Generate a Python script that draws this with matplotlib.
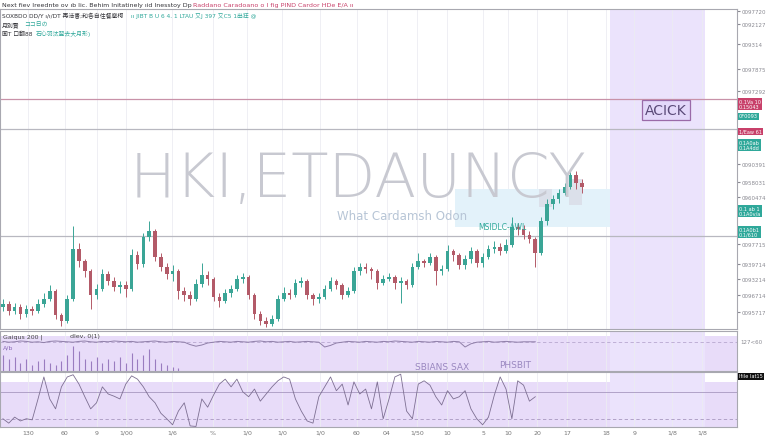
import matplotlib
matplotlib.use("Agg")
import matplotlib.pyplot as plt
from matplotlib.patches import Rectangle
import numpy as np

# ---- data (price in chart units) ----
closes = [25, 18, 22, 15, 20, 18, 25, 30, 38, 14, 8, 30, 80, 68, 58, 34, 40, 55, 48, 42,
          44, 40, 74, 65, 92, 98, 72, 62, 55, 58, 38, 34, 30, 45, 54, 50, 32, 28, 36, 40,
          50, 52, 34, 15, 8, 5, 10, 30, 36, 34, 46, 48, 34, 30, 32, 40, 48, 44, 34, 38,
          58, 62, 60, 58, 46, 50, 52, 46, 48, 44, 62, 68, 66, 72, 58, 60, 78, 74, 64, 70,
          78, 66, 72, 80, 82, 78, 84, 102, 100, 94, 90, 76, 108, 125, 130, 136, 142, 154, 146, 142]
highs = [30, 28, 26, 25, 24, 23, 30, 36, 44, 40, 16, 34, 103, 86, 70, 60, 45, 60, 58, 52,
         48, 48, 80, 78, 96, 108, 100, 76, 66, 64, 60, 42, 38, 50, 66, 58, 52, 36, 40, 44,
         54, 56, 54, 36, 18, 12, 14, 34, 42, 40, 50, 52, 50, 36, 36, 44, 52, 50, 46, 42,
         62, 66, 66, 62, 60, 54, 56, 54, 52, 50, 66, 76, 70, 76, 74, 64, 84, 80, 76, 74,
         82, 80, 76, 84, 88, 86, 90, 112, 106, 104, 98, 92, 112, 130, 134, 140, 146, 160, 158, 150]
lows = [18, 14, 15, 10, 12, 14, 16, 22, 28, 10, 3, 6, 28, 62, 52, 20, 30, 38, 44, 38,
        36, 32, 38, 60, 62, 88, 68, 58, 50, 48, 30, 28, 24, 28, 42, 44, 28, 22, 26, 32,
        38, 46, 30, 10, 4, 2, 3, 8, 28, 30, 32, 42, 30, 24, 26, 30, 38, 40, 30, 32,
        36, 54, 56, 50, 40, 44, 48, 40, 26, 40, 42, 60, 62, 64, 44, 54, 58, 68, 60, 60,
        66, 62, 62, 70, 76, 74, 76, 82, 94, 90, 86, 62, 74, 104, 120, 126, 134, 140, 140, 136]
first_open = 22

volume = [40, 30, 35, 20, 30, 15, 25, 30, 20, 15, 25, 40, 62, 50, 30, 25, 35, 20, 30, 25,
          35, 20, 45, 30, 40, 55, 30, 20, 15, 10, 8]

trend = [74, 72, 73, 75, 74, 72, 73, 71, 74, 75, 74, 73, 72, 74, 75, 73, 72, 74, 73, 75,
         74, 73, 74, 72, 73, 74, 75, 73, 72, 74, 73, 72, 66, 62, 65, 70, 72, 74, 73, 72,
         74, 73, 72, 74, 75, 73, 74, 72, 73, 74, 72, 73, 74, 73, 72, 60, 64, 70, 72, 74,
         73, 72, 74, 73, 72, 74, 73, 75, 74, 73, 72, 74, 73, 72, 74, 73, 72, 74, 73, 60,
         68, 72, 73, 74, 72, 73, 74, 73, 72, 73, 73, 73]

osc = [15, 7, 18, 11, 15, 13, 51, 91, 51, 33, 73, 91, 95, 78, 55, 33, 44, 73, 60, 56,
       51, 78, 93, 87, 73, 55, 44, 25, 15, 4, 29, 44, 2, 1, 51, 36, 58, 78, 87, 73,
       87, 64, 55, 69, 47, 60, 73, 84, 91, 87, 51, 29, 11, 7, 55, 73, 91, 66, 78, 40,
       82, 60, 69, 33, 82, 15, 51, 91, 96, 29, 15, 78, 84, 76, 55, 40, 66, 51, 55, 66,
       33, 15, 4, 18, 58, 91, 69, 15, 84, 76, 47, 55]

price_ticks = [318, 305, 285, 260, 238, 165, 147, 132, 85, 65, 50, 34, 17]
price_labels = ["0097720", "0092127", "009314", "0097875", "0097292", "0090391",
                "0958031", "0960474", "0097715", "0939714", "0093214", "0096714",
                "0095717"]
time_ticks = [4.3, 10.6, 16.1, 21.0, 28.9, 35.9, 41.7, 47.7, 54.2, 60.5, 65.6, 70.8, 75.9,
              82.1, 86.3, 91.3, 96.4, 103.1, 107.9, 114.4, 119.5]
time_labels = ["130", "60", "9", "1/00", "1/6", "%", "1/0", "1/0", "1/0", "60", "04", "1/50",
               "10", "5", "10", "20", "17", "18", "9", "1/8", "1/8"]

# ---- style ----
UP = "#3aa596"; DN = "#b35a68"; GRID = "#ececf2"; LAV = "#e8dcf9"; BAND = "#ebe3fc"
TEAL = "#2fa89a"; CRIM = "#c8406a"; TXT = "#333338"

W, H = 768, 439
def fx(x): return x / W
def fy(y): return 1 - y / H

fig = plt.figure(figsize=(7.68, 4.39), dpi=100)
fig.patch.set_facecolor("white")
ax = fig.add_axes([0, fy(330), 737 / W, 320 / H])
axa = fig.add_axes([0, fy(372), 737 / W, 40 / H], sharex=ax)
axb = fig.add_axes([0, fy(428), 737 / W, 55 / H], sharex=ax)
XL = (-0.5, -0.5 + 737 / 5.85)
band = (103.8, 120.0)

for a in (ax, axa, axb):
    a.set_facecolor("white")
    for s in a.spines.values():
        s.set_color("#a8a8b0"); s.set_linewidth(0.8)
    a.axvspan(*band, color=BAND, zorder=0, lw=0)
    for t in time_ticks:
        a.axvline(t, color=GRID, lw=0.6, zorder=0.5)

# ---- main candles ----
n = len(closes)
idx = np.arange(n)
opens = [first_open] + closes[:-1]
o = np.array(opens); c = np.array(closes)
cols = [UP if cc >= oo else DN for oo, cc in zip(o, c)]
ax.vlines(idx, lows, highs, colors=cols, lw=0.7, zorder=3)
ax.bar(idx, np.maximum(np.abs(c - o), 1.2), bottom=np.minimum(o, c), width=0.62,
       color=cols, zorder=4, lw=0)
ax.set_xlim(*XL); ax.set_ylim(0, 320)
for yy, col in [(230, "#c892a8"), (200, "#b8b8c0"), (93, "#b8b8c0")]:
    ax.axhline(yy, color=col, lw=0.9, zorder=2)
ax.add_patch(Rectangle((77.3, 102), band[0] - 77.3, 38, facecolor="#e3f2fa", lw=0, zorder=1))
ax.add_patch(Rectangle((91.6, 122), 2.3, 18, facecolor="#d9dce6", lw=0, alpha=0.8, zorder=2))
ax.add_patch(Rectangle((96.8, 124), 2.2, 26, facecolor="#d9dce6", lw=0, alpha=0.8, zorder=2))
ax.yaxis.tick_right()
ax.set_yticks(price_ticks)
ax.set_yticklabels(price_labels)
ax.tick_params(axis="y", labelsize=4.0, colors="#8a8a92", length=2, pad=1.5)
ax.tick_params(axis="x", bottom=False, labelbottom=False)

# watermark
fig.text(fx(358), fy(180), "HKI,ETDAUNCY", fontsize=44, color="#c8c9d1", ha="center",
         va="center", family="DejaVu Sans", fontweight="light", zorder=1)
fig.text(fx(402), fy(217), "What Cardamsh Odon", fontsize=8.5, color="#b7c5d6",
         ha="center", va="center")
fig.text(fx(478), fy(228), "MSIDLC-AWL", fontsize=5.5, color=TEAL, ha="left", va="center")
fig.text(fx(666), fy(111), "ACICK", fontsize=10, color="#5a4a78", ha="center", va="center",
         bbox=dict(boxstyle="square,pad=0.25", fc="#e3d8fa", ec="#9a6aa8", lw=0.9))

# ---- panel A ----
axa.axhspan(0, 88, color=LAV, zorder=0.2, lw=0)
axa.axvspan(*band, color=BAND, zorder=0.3, lw=0)
axa.vlines(np.arange(len(volume)), 0, volume, colors="#9a7cc0", lw=0.8, zorder=3)
axa.plot(np.arange(len(trend)), trend, color="#8f7fa8", lw=0.7, zorder=3)
axa.axhline(72, color="#b8a8d0", lw=0.6, ls=(0, (4, 3)), zorder=2)
axa.set_ylim(0, 100)
axa.set_yticks([])
axa.tick_params(axis="x", bottom=False, labelbottom=False)
fig.text(fx(3), fy(337), "Gaiqus 200 |", fontsize=4.5, color="#444", va="center")
fig.text(fx(70), fy(337), "dlev, 0(1)", fontsize=4.5, color="#444", va="center")
fig.text(fx(3), fy(348), "A/b", fontsize=4.5, color="#8a6ab8", va="center")
fig.text(fx(415), fy(368), "SBIANS SAX", fontsize=6.5, color="#9a88c0", va="center")
fig.text(fx(499), fy(366), "PHSBIT", fontsize=6.5, color="#9a88c0", va="center")

# ---- panel B ----
axb.axhspan(0, 82, color=LAV, zorder=0.2, lw=0)
axb.axvspan(*band, color=BAND, zorder=0.3, lw=0)
axb.plot(np.arange(len(osc)), osc, color="#7d6f92", lw=0.6, zorder=3)
axb.axhline(64, color="#a898c0", lw=0.6, zorder=2)
axb.axhline(15, color="#a898c0", lw=0.6, ls=(0, (4, 3)), zorder=2)
axb.set_ylim(0, 100)
axb.set_yticks([])
axb.set_xticks(time_ticks)
axb.set_xticklabels(time_labels)
axb.tick_params(axis="x", labelsize=4.5, colors="#777", length=0, pad=2)
axb.set_xlim(*XL)

# ---- right-side badges ----
def badge(y, s, fc, tc="white"):
    fig.text(fx(739), fy(y), s, fontsize=3.6, color=tc, va="center", ha="left",
             linespacing=1.0, bbox=dict(boxstyle="square,pad=0.2", fc=fc, ec="none"))
badge(105, "0.1Va 10\n0.15043", CRIM)
badge(117, "0F0093", TEAL)
badge(132, "1/Eaw 61", CRIM)
badge(146, "0.1A0ab\n0.1A4dd", TEAL)
badge(212, "0.1 ab 1\n0.1A0v/a", TEAL)
badge(233, "0.1A0b1\n0.1/610", TEAL)
badge(377, "Ifile lat15", "#111111")
fig.text(fx(740), fy(343), "127<60", fontsize=4.0, color="#8a8a92", va="center")

# ---- header text ----
CJK = ["DejaVu Sans", "Noto Sans CJK SC"]
fig.text(fx(2), fy(5), "Next fiev Ireednte ov \u0131b Iic. Behim Initatinely \u0131id Inesstoy Dp",
         fontsize=4.5, color=TXT, va="center")
fig.text(fx(193), fy(5), "Raddano Caradoano o l fig PIND Cardor HDe E/A \u0131\u0131",
         fontsize=4.6, color=CRIM, va="center")
fig.text(fx(2), fy(16), "SOXBDO DD/Y \u0131/\u0131/DT \u518d\u6d3b\u66f8;\u548c\u5404\u81ea\u4f4f\u9910\u6469\u67ef",
         fontsize=4.2, color=TXT, va="center", family=CJK)
fig.text(fx(131), fy(16), "\u0131\u0131 JIBT B U 6 4. 1 LTAU \u53c8J 397 \u53c8C5 1\u51fa\u72c2 @",
         fontsize=4.2, color=TEAL, va="center", family=CJK)
fig.text(fx(2), fy(25), "\u6708\u5225\u8ce2", fontsize=4.2, color=TXT, va="center", family=CJK)
fig.text(fx(24), fy(25), "\u30b3\u30b3\u65e5\u306e", fontsize=4.2, color=TEAL, va="center", family=CJK)
fig.text(fx(2), fy(34), "\u56fdT \u53e3\u7ffb88", fontsize=4.2, color=TXT, va="center", family=CJK)
fig.text(fx(36), fy(34), "\u77f3\u5fc3\u7fbd\u6c70\u7fcc\u53bb\u5927\u6708\u5f62)", fontsize=4.2,
         color=TEAL, va="center", family=CJK)

fig.savefig("out.png", dpi=100, facecolor="white")
